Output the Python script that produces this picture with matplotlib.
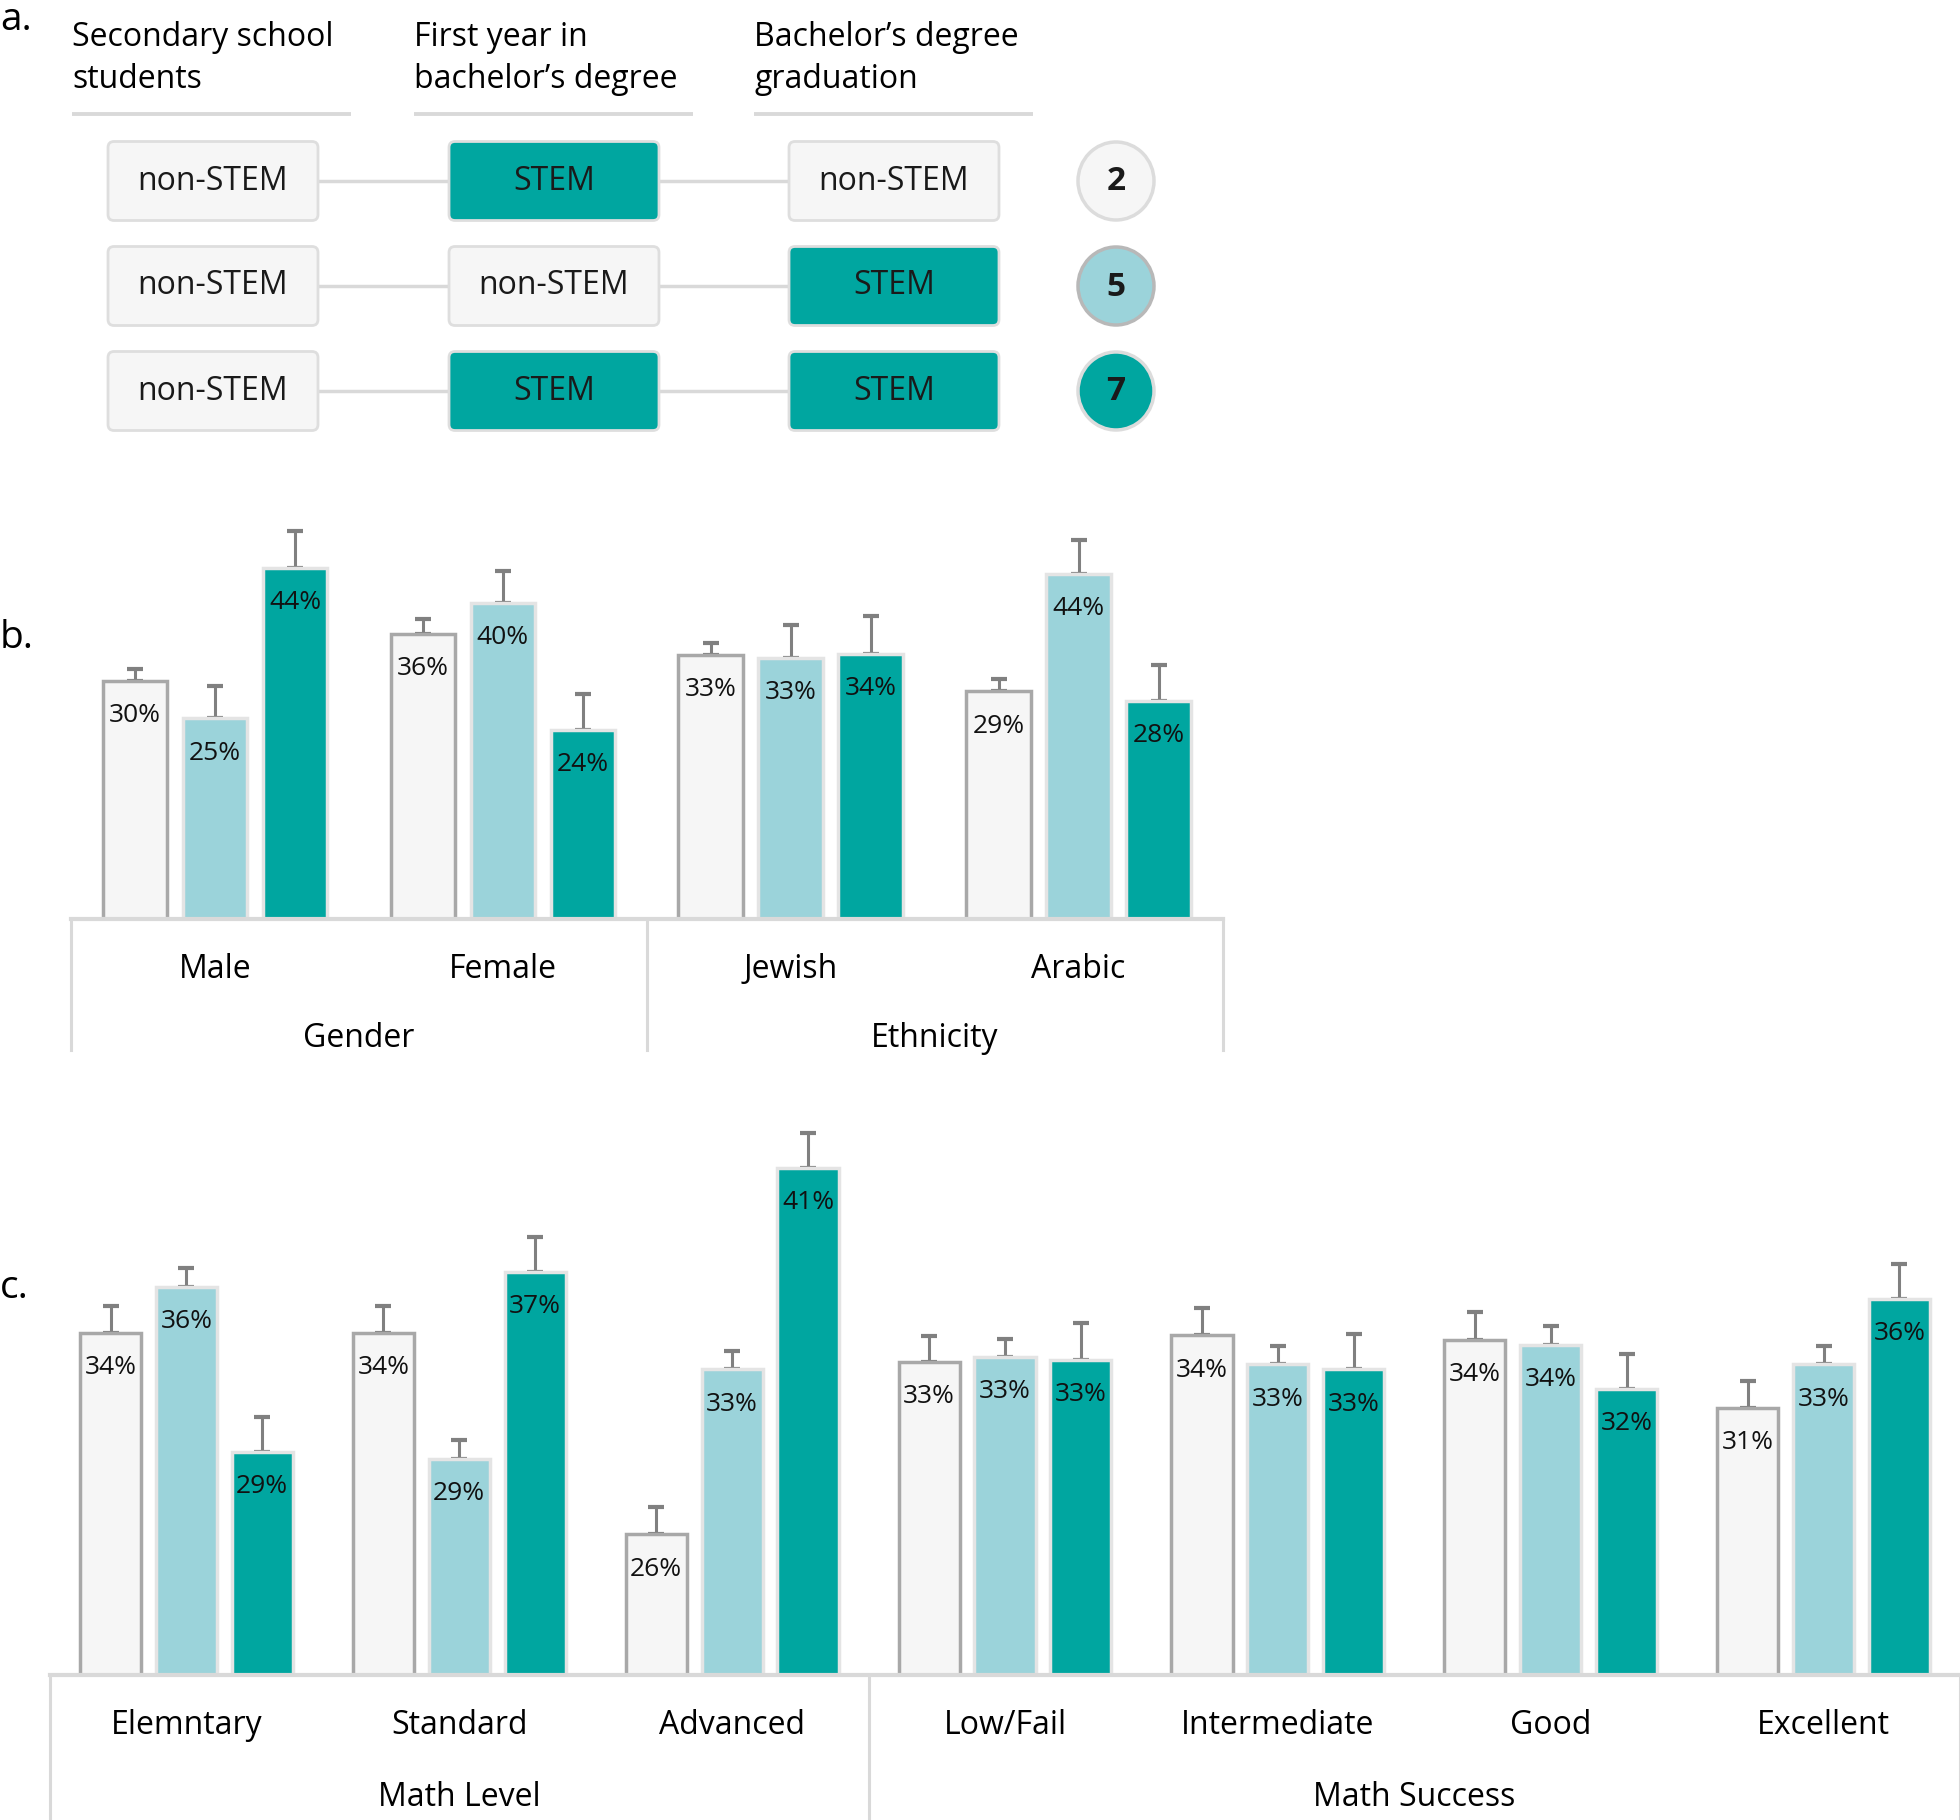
import numpy as np
import matplotlib
matplotlib.use("Agg")
import matplotlib.pyplot as plt
from matplotlib.patches import FancyBboxPatch, Ellipse

plt.rcParams['font.family'] = ['Open Sans', 'DejaVu Sans']

W, H = 1960, 1820
WHITE = '#f6f6f6'
LIGHT = '#9bd3da'
TEAL = '#00a6a0'
LINE = '#d9d9d9'
ERR = '#808080'

# panel a: the three study stages and the three paths
stage_titles = [("Secondary school", "students"),
                ("First year in", "bachelor\u2019s degree"),
                ("Bachelor\u2019s degree", "graduation")]
paths = [["non-STEM", "STEM", "non-STEM"],
         ["non-STEM", "non-STEM", "STEM"],
         ["non-STEM", "STEM", "STEM"]]
path_ids = ["2", "5", "7"]

# panel b
b_groups = ["Gender", "Ethnicity"]
b_cats = ["Male", "Female", "Jewish", "Arabic"]
b_white = [30.1, 36.1, 33.4, 28.8]
b_light = [25.4, 40.0, 33.1, 43.7]
b_teal = [44.4, 23.9, 33.6, 27.6]
b_white_err = [1.6, 1.9, 1.6, 1.6]
b_light_err = [4.1, 4.0, 4.1, 4.3]
b_teal_err = [4.7, 4.6, 4.7, 4.6]

# panel c
c_groups = ["Math Level", "Math Success"]
c_cats = ["Elemntary", "Standard", "Advanced", "Low/Fail", "Intermediate", "Good", "Excellent"]
c_white = [34.1, 34.1, 25.8, 32.9, 34.0, 33.8, 31.0]
c_light = [36.0, 28.9, 32.6, 33.1, 32.8, 33.6, 32.8]
c_teal = [29.2, 36.6, 40.9, 33.0, 32.6, 31.8, 35.5]
c_white_err = [1.13, 1.13, 1.13, 1.08, 1.13, 1.18, 1.13]
c_light_err = [0.77, 0.77, 0.77, 0.77, 0.77, 0.77, 0.77]
c_teal_err = [1.44, 1.44, 1.44, 1.5, 1.44, 1.44, 1.44]

PITCH = 0.278
BW = 0.224


def px_axes(fig, left, right, top, bottom):
    # pixel box (from top-left) -> figure fraction
    return fig.add_axes([left / W, 1 - bottom / H, (right - left) / W, (bottom - top) / H])


def bar_panel(ax, cats, series, groups, splits, ylim, cat_off, grp_off, line_px):
    x = np.arange(len(cats))
    styles = [(WHITE, '#a8a8a8'), (LIGHT, '#e4e4e4'), (TEAL, '#e4e4e4')]
    for k, ((vals, err), (fc, ec)) in enumerate(zip(series, styles)):
        xs = x + (k - 1) * PITCH
        vals = np.array(vals)
        ax.errorbar(xs, vals, yerr=[np.zeros(len(vals)), err], fmt='none',
                    ecolor=ERR, elinewidth=2.2, capsize=6, capthick=3, zorder=1)
        ax.bar(xs, vals, width=BW, color=fc, edgecolor=ec, linewidth=2.5, zorder=2)
        for xi, v in zip(xs, vals):
            ax.annotate(f"{v:.0f}%", (xi, v), xytext=(0, -25), textcoords='offset points',
                        ha='center', va='center', fontsize=19, color='#111111', zorder=3)
    ax.set_xlim(-0.5, len(cats) - 0.5)
    ax.set_ylim(*ylim)
    ax.set_axis_off()

    trans = ax.get_xaxis_transform()
    ax_h = ax.get_position().height * H
    ax.plot([-0.5, len(cats) - 0.5], [0, 0], transform=trans, color=LINE, lw=3,
            clip_on=False, zorder=4)
    for s in splits:
        ax.plot([s, s], [0, -line_px / ax_h], transform=trans, color=LINE, lw=2.2,
                clip_on=False)
    for i, c in enumerate(cats):
        ax.annotate(c, (i, 0), xycoords=trans, xytext=(0, -cat_off), textcoords='offset points',
                    ha='center', va='center', fontsize=23)
    for g, (a, b) in zip(groups, zip(splits[:-1], splits[1:])):
        ax.annotate(g, ((a + b) / 2, 0), xycoords=trans, xytext=(0, -grp_off),
                    textcoords='offset points', ha='center', va='center', fontsize=23)


fig = plt.figure(figsize=(W / 100, H / 100), dpi=100)

# ---- panel a (drawn in pixel coordinates) ----
ova = fig.add_axes([0, 0, 1, 1])
ova.set_xlim(0, W)
ova.set_ylim(H, 0)
ova.set_axis_off()

col_x = [72, 414, 754]
for cx, (l1, l2) in zip(col_x, stage_titles):
    ova.text(cx, 37, l1, fontsize=23, va='center', ha='left')
    ova.text(cx, 79, l2, fontsize=23, va='center', ha='left')
    ova.plot([cx, cx + 279], [114, 114], color=LINE, lw=2.8, solid_capstyle='butt')

box_x = [108, 449, 789]
box_w, box_h = 210, 79
row_y = [181, 286, 391]
for r, (row, yc) in enumerate(zip(paths, row_y)):
    for c in range(2):
        ova.plot([box_x[c] + box_w, box_x[c + 1]], [yc, yc], color=LINE, lw=2.5, zorder=1)
    for c, lab in enumerate(row):
        stem = lab == "STEM"
        ova.add_patch(FancyBboxPatch((box_x[c], yc - box_h / 2), box_w, box_h,
                                     boxstyle="round,pad=0,rounding_size=6",
                                     fc=TEAL if stem else WHITE, ec='#dedede', lw=2, zorder=2))
        ova.text(box_x[c] + box_w / 2, yc, lab, fontsize=23, ha='center', va='center',
                 color='#1a1a1a', zorder=3)

circ_style = [(WHITE, '#dcdcdc'), (LIGHT, '#b8b8b8'), (TEAL, '#dcdcdc')]
for yc, num, (fc, ec) in zip(row_y, path_ids, circ_style):
    ova.add_patch(Ellipse((1116, yc), 76, 78, fc=fc, ec=ec, lw=2.5, zorder=2))
    ova.text(1116, yc + 1, num, fontsize=24, fontweight='bold', ha='center', va='center',
             color='#1a1a1a', zorder=3)

ova.text(0, 20, "a.", fontsize=28, ha='left', va='center')
ova.text(0, 638, "b.", fontsize=28, ha='left', va='center')
ova.text(0, 1288, "c.", fontsize=28, ha='left', va='center')

# ---- panel b ----
axb = px_axes(fig, 71, 1222.5, 524, 919)
bar_panel(axb, b_cats,
          [(b_white, b_white_err), (b_light, b_light_err), (b_teal, b_teal_err)],
          b_groups, [-0.5, 1.5, 3.5], (0, 50), 36, 86, 131)

# ---- panel c ----
axc = px_axes(fig, 50, 1960, 1117, 1675)
bar_panel(axc, c_cats,
          [(c_white, c_white_err), (c_light, c_light_err), (c_teal, c_teal_err)],
          c_groups, [-0.5, 2.5, 6.5], (20, 43), 36, 88, 145)

fig.savefig("out.png", dpi=100)
